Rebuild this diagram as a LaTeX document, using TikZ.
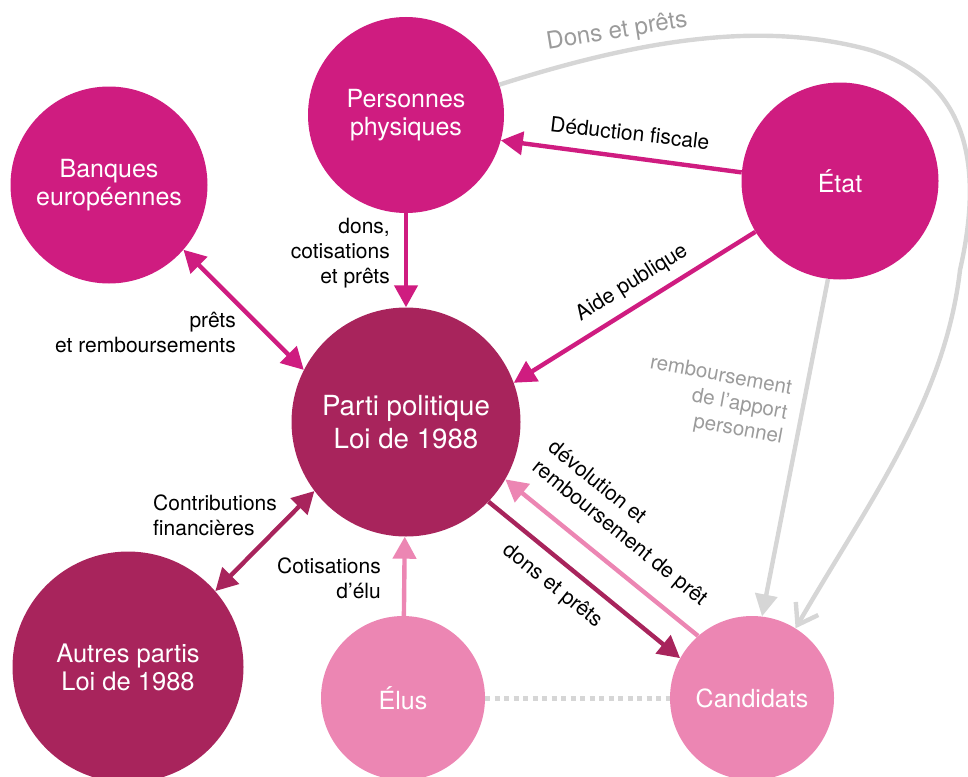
\documentclass[tikz,border=0pt]{standalone}
\usepackage{fontspec}
\setmainfont{TeX Gyre Heros}
\usetikzlibrary{arrows.meta}
\definecolor{rose}{HTML}{CF1C80}
\definecolor{bordeaux}{HTML}{A8245C}
\definecolor{rosepale}{HTML}{EC86B3}
\definecolor{grisclair}{HTML}{D6D6D6}
\definecolor{gristexte}{HTML}{9B9B9B}

\begin{document}
\begin{tikzpicture}[x=1pt, y=-1pt,
        bulle/.style={circle, fill=#1, text=white, inner sep=0pt, align=center,
            font=\fontsize{25}{28.5}\selectfont},
        lien/.style={line width=4.4pt, draw=#1, -{Triangle[length=22pt,width=23pt]}},
        liens/.style={line width=4.4pt, draw=#1,
            {Triangle[length=22pt,width=23pt]}-{Triangle[length=22pt,width=23pt]}},
        gris/.style={line width=4.4pt, draw=grisclair},
        pointille/.style={line width=5pt, draw=grisclair, dash pattern=on 5pt off 4.5pt},
        etiq/.style={inner sep=0pt, font=\fontsize{21}{25}\selectfont}]
        \useasboundingbox (0,0) rectangle (968,776);
        \node[bulle=rose, minimum size=196pt] (pers) at (406,115) {Personnes\\physiques};
        \node[bulle=rose, minimum size=197pt] (banq) at (109,185) {Banques\\européennes};
        \node[bulle=rose, minimum size=197pt] (etat) at (840,181) {État};
        \node[bulle=bordeaux, minimum size=229pt, font=\fontsize{27.7}{33}\selectfont]
            (parti) at (406,422) {Parti politique\\Loi de 1988};
        \node[bulle=bordeaux, minimum size=231pt, font=\fontsize{25.5}{28}\selectfont]
            (autres) at (128,667) {Autres partis\\Loi de 1988};
        \node[bulle=rosepale, minimum size=164pt] (elus) at (403,698) {Élus};
        \node[bulle=rosepale, minimum size=164pt] (cand) at (752,698) {Candidats};

        \draw[lien=rose] (pers) -- (parti);
        \draw[liens=rose] (banq.-41) -- (parti.153);
        \draw[lien=rose] (etat.175) -- (pers.-15);
        \draw[lien=rose] (etat.211) -- (parti.20);
        \draw[lien=bordeaux] (parti.-44) -- (cand.151);
        \draw[lien=rosepale] (cand.131) -- (parti.-30);
        \draw[liens=bordeaux] (autres.41) -- (parti.217);
        \draw[lien=rosepale] (elus) -- (parti);
        \draw[pointille] (elus) -- (cand);
        \draw[gris, -{Triangle[length=22pt,width=22pt]}] (etat.263) -- (cand.83);
        \draw[gris, -{Straight Barb[length=19pt,width=26pt]}] (pers.18)
            .. controls (640,40) and (760,20) .. (870,50)
            .. controls (965,80) and (985,160) .. (960,270)
            .. controls (945,400) and (870,500) .. (cand.58);

        \node[etiq, anchor=east, align=right] (ldons) at (390,253) {dons,\\cotisations\\et prêts};
        \node[etiq, anchor=east, align=right] (lprets) at (236,332) {prêts\\et remboursements};
        \node[etiq, anchor=west, align=left] (lcontrib) at (153,515) {Contributions\\financières};
        \node[etiq, anchor=east, align=right] (lcotis) at (381,578) {Cotisations\\d’élu};
        \node[etiq, rotate=-6.5] (ldeduc) at (630,133) {Déduction fiscale};
        \node[etiq, rotate=32] (laide) at (632,283) {Aide publique};
        \node[etiq, rotate=-39, align=left] (ldevol) at (627,524) {dévolution et\\remboursement de prêt};
        \node[etiq, rotate=-38.5] (ldonsc) at (552,586) {dons et prêts};
        \node[etiq, text=gristexte, font=\fontsize{20.5}{25}\selectfont, rotate=-10.5,
            anchor=east, align=right] (lappor) at (787,414) {remboursement\\de l’apport\\personnel};
        \node[etiq, text=gristexte, font=\fontsize{24}{28}\selectfont, rotate=9.3]
            (ldonsp) at (617,32) {Dons et prêts};
\end{tikzpicture}
\end{document}
